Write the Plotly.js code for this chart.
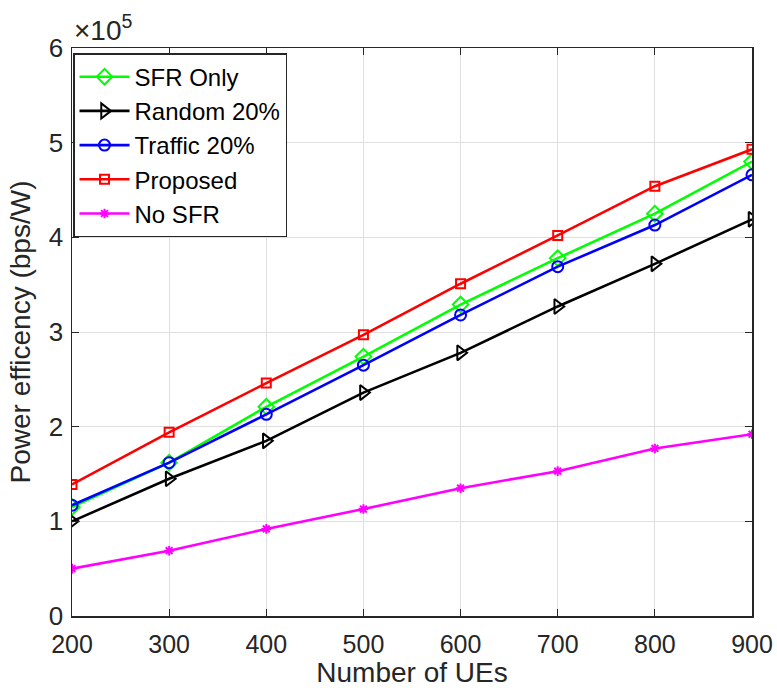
<!DOCTYPE html>
<html>
<head>
<meta charset="utf-8">
<script src="https://cdn.plot.ly/plotly-3.0.1.min.js"></script>
<style>html,body{margin:0;padding:0;background:#fff;}#chart{width:777px;height:688px;}</style>
</head>
<body>
<div id="chart"></div>
<script>
const ues = [200, 300, 400, 500, 600, 700, 800, 900];
const sfrOnly   = [115000, 162000, 221000, 274000, 329000, 378000, 425000, 480000];
const random20  = [100000, 145000, 185000, 236000, 278000, 327000, 372000, 419000];
const traffic20 = [117000, 162000, 213000, 265000, 318000, 369000, 413000, 466000];
const proposed  = [139000, 194000, 246000, 297000, 351000, 402000, 454000, 493000];
const noSFR     = [50000, 69000, 92000, 113000, 135000, 153000, 177000, 192000];
const yTickVals = [0, 100000, 200000, 300000, 400000, 500000, 600000];
const yTickText = ['0', '1', '2', '3', '4', '5', '6'];
const xTickVals = [200, 300, 400, 500, 600, 700, 800, 900];

const FONT = 'Liberation Sans, Arial, sans-serif';
function tr(name, y, color, symbol, msize) {
  return {
    x: ues, y: y, name: name, type: 'scatter', mode: 'lines+markers',
    line: {color: color, width: 2.6},
    marker: {symbol: symbol, size: msize, color: color, line: {color: color, width: 2}}
  };
}
const data = [
  tr('SFR Only', sfrOnly, '#00ff00', 'diamond-open', 12),
  tr('Random 20%', random20, '#000000', 'triangle-right-open', 13),
  tr('Traffic 20%', traffic20, '#0000ff', 'circle-open', 11),
  tr('Proposed', proposed, '#ff0000', 'square-open', 9),
  tr('No SFR', noSFR, '#ff00ff', 'asterisk-open', 8)
];
const layout = {
  width: 777, height: 688,
  margin: {l: 72, r: 25, t: 48, b: 72},
  paper_bgcolor: '#fff', plot_bgcolor: '#fff',
  font: {family: FONT, color: '#262626', size: 25},
  showlegend: true,
  legend: {x: 0.0015, y: 0.991, xanchor: 'left', yanchor: 'top',
    bgcolor: '#fff', bordercolor: '#262626', borderwidth: 1.5,
    font: {family: FONT, size: 24, color: '#000'}, tracegroupgap: 0,
    itemwidth: 50},
  xaxis: {
    range: [200, 900], tickvals: xTickVals, ticks: 'inside', ticklen: 7,
    tickcolor: '#262626', mirror: 'ticks', showline: true, linecolor: '#262626', linewidth: 1.5,
    showgrid: true, gridcolor: '#dfdfdf', gridwidth: 1, zeroline: false,
    tickfont: {size: 25, color: '#262626'}, ticklabelstandoff: 5,
    title: {text: 'Number of UEs', font: {size: 28, color: '#262626'}, standoff: 20}
  },
  yaxis: {
    range: [0, 600000], tickvals: yTickVals, ticktext: yTickText, ticks: 'inside', ticklen: 7,
    tickcolor: '#262626', mirror: 'ticks', showline: true, linecolor: '#262626', linewidth: 1.5,
    showgrid: true, gridcolor: '#dfdfdf', gridwidth: 1, zeroline: false,
    tickfont: {size: 26, color: '#262626'}, ticklabelstandoff: 2,
    title: {text: 'Power efficency (bps/W)', font: {size: 28, color: '#262626'}, standoff: 10}
  },
  annotations: [{
    xref: 'paper', yref: 'paper', x: 0, y: 1, xanchor: 'left', yanchor: 'bottom',
    yshift: 0, showarrow: false, text: '×10<sup>5</sup>',
    font: {family: FONT, size: 28, color: '#262626'}
  }]
};
Plotly.newPlot('chart', data, layout, {displayModeBar: false, staticPlot: true});
</script>
</body>
</html>
